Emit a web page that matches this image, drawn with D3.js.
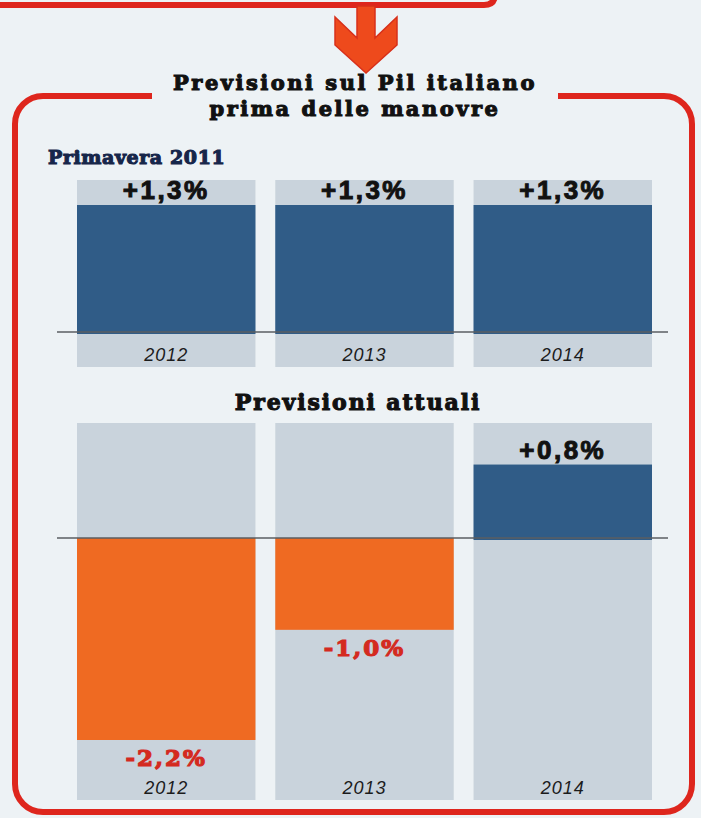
<!DOCTYPE html>
<html>

<head>
  <meta charset="utf-8">
  <script src="https://d3js.org/d3.v7.min.js"></script>

  <style>
    body { margin: 0; background: #edf2f5; }
    svg { display: block; }
  </style>
</head>

<body>

  <div id="svgcontainer"></div>

  <script>

    /* data */
    var years = ["2012", "2013", "2014"];
    var primavera2011 = [1.3, 1.3, 1.3];   // Pil forecast, spring 2011
    var attuali = [-2.2, -1.0, 0.8];        // current forecast

    var width = 701, height = 818;

    var svg = d3.select("#svgcontainer")
      .append("svg")
      .attr("width", width)
      .attr("height", height);

    // italian number format: +1,3 / -2,2
    var it = d3.formatLocale({ decimal: ",", thousands: ".", grouping: [3], currency: ["", "€"], minus: "-" });
    var fmt = function (v) { return it.format("+.1f")(v) + "%"; };

    // colours
    var red = "#de261d", blue = "#305c87", orange = "#ef6a22", panel = "#c9d3dc";

    /* frame, top box edge and arrow */
    svg.append("path")
      .attr("d", "M0,5 H484 Q495,5 495,-6")
      .attr("fill", "none")
      .attr("stroke", red)
      .attr("stroke-width", 6);

    svg.append("polygon")
      .attr("points", "357,6 375,6 375,38 397,17 397,45 366,73 335,45 335,17 357,38")
      .attr("fill", "#ee4a1c")
      .attr("stroke", "#d8301a")
      .attr("stroke-width", 1.5);

    svg.append("path")
      .attr("d", "M152,96 H43 A28,28 0 0 0 15,124 V784 A28,28 0 0 0 43,812 H664 A28,28 0 0 0 692,784 V124 A28,28 0 0 0 664,96 H558")
      .attr("fill", "none")
      .attr("stroke", red)
      .attr("stroke-width", 6);

    var slab = "'DejaVu Serif', 'Liberation Serif', serif";

    // heavy slab headings (stroke thickens the glyphs)
    function heading(txt, xx, yy, size, spacing, colour, anchor) {
      svg.append("text")
        .attr("x", xx).attr("y", yy)
        .attr("text-anchor", anchor)
        .style("font-family", slab).style("font-weight", "bold")
        .style("font-size", size + "px")
        .style("letter-spacing", spacing + "px")
        .style("fill", colour)
        .style("stroke", colour)
        .style("stroke-width", "1.1px")
        .text(txt);
    }

    heading("Previsioni sul Pil italiano", 355, 90, 21, 2.5, "#111", "middle");
    heading("prima delle manovre", 355, 116, 21, 2.5, "#111", "middle");
    heading("Primavera 2011", 48, 164, 19, 0.6, "#16264a", "start");
    heading("Previsioni attuali", 358, 410, 22, 1.9, "#111", "middle");


    /* shared x band scale for the three years */
    var x = d3.scaleBand()
      .domain(years)
      .range([77, 652])
      .paddingInner(0.1);


    /*
      function drawing one panel of three bars
    */
    function drawPanel(values, y, top, bottom) {

      var g = svg.append("g");

      var data = years.map(function (yr, i) { return { year: yr, value: values[i] }; });

      // light background columns
      g.selectAll("rect.bg")
        .data(data)
        .enter()
        .append("rect")
        .attr("class", "bg")
        .attr("x", d => x(d.year))
        .attr("y", top)
        .attr("width", x.bandwidth())
        .attr("height", bottom - top)
        .style("fill", panel);

      // bars
      g.selectAll("rect.bar")
        .data(data)
        .enter()
        .append("rect")
        .attr("class", "bar")
        .attr("x", d => x(d.year))
        .attr("y", d => Math.min(y(d.value), y(0)))
        .attr("width", x.bandwidth())
        .attr("height", d => Math.abs(y(d.value) - y(0)) + (d.value > 0 ? 2 : 0))
        .style("fill", d => d.value > 0 ? blue : orange);

      // zero line
      g.append("line")
        .attr("x1", 57)
        .attr("x2", 668)
        .attr("y1", y(0))
        .attr("y2", y(0))
        .attr("stroke", "#5a5e62")
        .attr("stroke-width", 1.6);

      // value labels
      g.selectAll("text.val")
        .data(data)
        .enter()
        .append("text")
        .attr("class", "val")
        .attr("x", d => x(d.year) + x.bandwidth() / 2)
        .attr("y", d => d.value > 0 ? y(d.value) - 6 : y(d.value) + 26)
        .attr("text-anchor", "middle")
        .style("font-family", d => d.value > 0 ? "'Liberation Sans', Arial, sans-serif" : slab)
        .style("font-weight", "bold")
        .style("font-size", d => d.value > 0 ? "26px" : "23px")
        .style("letter-spacing", d => d.value > 0 ? "2.5px" : "2px")
        .style("fill", d => d.value > 0 ? "#111" : "#d42a1f")
        .style("stroke", d => d.value > 0 ? "#111" : "#d42a1f")
        .style("stroke-width", d => d.value > 0 ? "1px" : "1.2px")
        .text(d => fmt(d.value));

      // year labels
      g.selectAll("text.year")
        .data(data)
        .enter()
        .append("text")
        .attr("class", "year")
        .attr("x", d => x(d.year) + x.bandwidth() / 2)
        .attr("y", bottom - 6)
        .attr("text-anchor", "middle")
        .style("font-family", "'Liberation Sans', Arial, sans-serif")
        .style("font-style", "italic")
        .style("font-size", "18px")
        .style("letter-spacing", "1px")
        .style("fill", "#1c1c1c")
        .text(d => d.year);
    }


    // top panel: before the austerity packages
    var yTop = d3.scaleLinear()
      .domain([0, 1.3])
      .range([332, 205]);

    drawPanel(primavera2011, yTop, 180, 367);

    // bottom panel: current forecast
    var yBot = d3.scaleLinear()
      .domain([0, -2.2])
      .range([538, 740]);

    drawPanel(attuali, yBot, 423, 800);

  </script>
</body>

</html>
